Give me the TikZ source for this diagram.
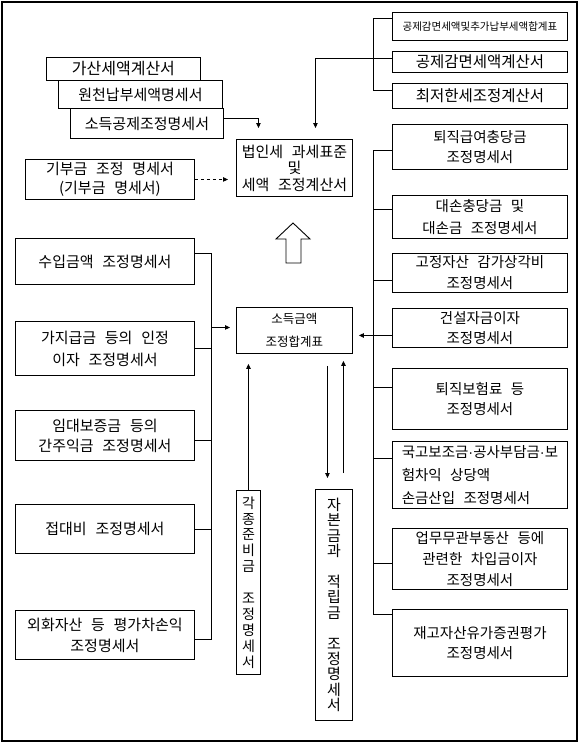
\documentclass[tikz,border=0pt]{standalone}
\usepackage{fontspec}
\setmainfont{Noto Sans CJK KR}[WordSpace=2.6]
\newfontfamily\dotfont{Liberation Sans}
\usetikzlibrary{arrows.meta}

\newcommand{\fsz}[2]{\fontsize{#1}{#2}\selectfont}
\newcommand{\mdot}{{\dotfont ·}}

\tikzset{
  docbox/.style={draw, fill=white, line width=0.9pt, inner sep=0pt,
                 anchor=north west, align=center},
  link/.style={line width=0.9pt},
  arr/.style={-{Triangle[length=5pt,width=4.5pt]}},
  rarr/.style={{Triangle[length=5pt,width=4.5pt]}-},
}

\begin{document}
\begin{tikzpicture}[x=1pt, y=-1pt]
  \useasboundingbox (0,0) rectangle (580,745);
  \draw[line width=2pt] (2,2) rectangle (577,741);

  % top left stack
  \node[docbox, minimum width=154, minimum height=23, font=\fsz{16}{18}]
      (gasan) at (46,57) {가산세액계산서};
  \node[docbox, minimum width=164, minimum height=28, font=\fsz{15}{18}]
      (wonchun) at (58,80) {원천납부세액명세서};
  \node[docbox, minimum width=153, minimum height=30, font=\fsz{15}{18}]
      (sodeukgongje) at (70,108) {소득공제조정명세서};
  \node[docbox, minimum width=169, minimum height=40, font=\fsz{15}{19}]
      (gibu) at (25,159) {기부금 조정 명세서\\(기부금 명세서)};

  % main boxes
  \node[docbox, minimum width=116, minimum height=57, font=\fsz{15}{16.5}]
      (beobin) at (236,139) {법인세 과세표준\\및\\세액 조정계산서};
  \node[docbox, minimum width=116, minimum height=46, font=\fsz{12.5}{23}]
      (sodeuk) at (236,307) {소득금액\\조정합계표};
  \draw[link] (286,263) -- (286,239) -- (276,239) -- (293,223)
      -- (310,239) -- (301,239) -- (301,263) -- cycle;

  % top right
  \node[docbox, minimum width=175, minimum height=28, font=\fsz{10.5}{12}]
      (hapgye) at (392,12) {공제감면세액및추가납부세액합계표};
  \node[docbox, minimum width=175, minimum height=21, font=\fsz{15.5}{18}]
      (gongjegamyeon) at (392,51) {공제감면세액계산서};
  \node[docbox, minimum width=175, minimum height=25, font=\fsz{15.5}{18}]
      (choejeo) at (392,83) {최저한세조정계산서};

  % left column
  \node[docbox, minimum width=179, minimum height=46, font=\fsz{15}{21}]
      (suip) at (15,238) {수입금액 조정명세서};
  \node[docbox, minimum width=179, minimum height=54, font=\fsz{15}{22}]
      (gajigeup) at (15,321) {가지급금 등의 인정\\이자 조정명세서};
  \node[docbox, minimum width=179, minimum height=50, font=\fsz{15}{20}]
      (imdae) at (15,410) {임대보증금 등의\\간주익금 조정명세서};
  \node[docbox, minimum width=179, minimum height=49, font=\fsz{15}{21}]
      (jeopdae) at (15,504) {접대비 조정명세서};
  \node[docbox, minimum width=179, minimum height=49, font=\fsz{15}{21}]
      (oehwa) at (15,610) {외화자산 등 평가차손익\\조정명세서};

  % right column
  \node[docbox, minimum width=175, minimum height=45, font=\fsz{14.5}{20}]
      (toejik) at (392,124) {퇴직급여충당금\\조정명세서};
  \node[docbox, minimum width=175, minimum height=43, font=\fsz{14.5}{22}]
      (daeson) at (392,195) {대손충당금 및\\대손금 조정명세서};
  \node[docbox, minimum width=175, minimum height=39, font=\fsz{14.5}{21}]
      (gojeong) at (392,253) {고정자산 감가상각비\\조정명세서};
  \node[docbox, minimum width=175, minimum height=39, font=\fsz{14.5}{20}]
      (geonseol) at (392,308) {건설자금이자\\조정명세서};
  \node[docbox, minimum width=175, minimum height=61, font=\fsz{14.5}{20}]
      (toejikbohum) at (392,368) {퇴직보험료 등\\조정명세서};
  \node[docbox, minimum width=175, minimum height=67, font=\fsz{14.5}{23}, align=left]
      (gukgo) at (392,441) {국고보조금\mdot 공사부담금\mdot 보\\험차익 상당액\\손금산입 조정명세서};
  \node[docbox, minimum width=175, minimum height=61, font=\fsz{14.5}{21}]
      (eommu) at (392,528) {업무무관부동산 등에\\관련한 차입금이자\\조정명세서};
  \node[docbox, minimum width=175, minimum height=67, font=\fsz{14.5}{20}]
      (jaego) at (392,609) {재고자산유가증권평가\\조정명세서};

  % vertical boxes
  \node[docbox, minimum width=24, minimum height=184, font=\fsz{14}{15.9}]
      (gakjong) at (236,490) {각\\종\\준\\비\\금\\[15.9pt]조\\정\\명\\세\\서};
  \node[docbox, minimum width=37, minimum height=231, font=\fsz{15}{15.4}]
      (jabon) at (315,489) {자\\본\\금\\과\\[15.4pt]적\\립\\금\\[15.4pt]조\\정\\명\\세\\서};

  % into beobin
  \draw[link, arr, shorten >=11pt] ([yshift=5pt]sodeukgongje.east) -| ([xshift=-36pt]beobin.north);
  \draw[link, arr, shorten >=11pt] ([yshift=4pt]gongjegamyeon.west) -| ([xshift=21pt]beobin.north);
  \draw[link] ([yshift=8pt]hapgye.west) -- ++(-19,0) |- ([yshift=6pt]choejeo.west);
  \draw[link, dashed, arr, shorten >=8pt] (gibu.east) -- (gibu.east -| beobin.west);

  % left bracket
  \draw[link] ([yshift=8pt]suip.east) -- ++(17,0) coordinate (lbus) |- ([yshift=-4.5pt]oehwa.east);
  \draw[link] (gajigeup.east) -- (gajigeup.east -| lbus);
  \draw[link] ([yshift=-5pt]imdae.east) -- ++(17,0);
  \draw[link] (jeopdae.east) -- (jeopdae.east -| lbus);
  \draw[link, rarr, shorten <=6pt] ([yshift=3pt]sodeuk.west) -- ++(-25,0);

  % right bracket
  \draw[link] ([yshift=-3.5pt]toejik.west) -- ++(-19,0) |- ([yshift=28.5pt]jaego.west);
  \draw[link] ([yshift=7.5pt]daeson.west) -- ++(-19,0);
  \draw[link] ([yshift=-7.5pt]gojeong.west) -- ++(-19,0);
  \draw[link] ([yshift=11.5pt]toejikbohum.west) -- ++(-19,0);
  \draw[link] ([yshift=16.5pt]gukgo.west) -- ++(-19,0);
  \draw[link] ([yshift=-4.5pt]eommu.west) -- ++(-19,0);
  \path ([yshift=-7.5pt]geonseol.west) coordinate (gsw);
  \draw[link, arr, shorten >=6pt] (gsw) -- (gsw -| sodeuk.east);

  % from below
  \draw[link, arr, shorten >=10pt] (gakjong.north) -- (gakjong.north |- sodeuk.south);
  \path ([xshift=-6.5pt]jabon.north) coordinate (jbl)
        ([xshift=9.5pt]jabon.north) coordinate (jbr);
  \draw[link, arr, shorten <=12pt, shorten >=11pt] (jbl |- sodeuk.south) -- (jbl);
  \draw[link, arr, shorten <=16pt, shorten >=7pt] (jbr) -- (jbr |- sodeuk.south);
\end{tikzpicture}
\end{document}
